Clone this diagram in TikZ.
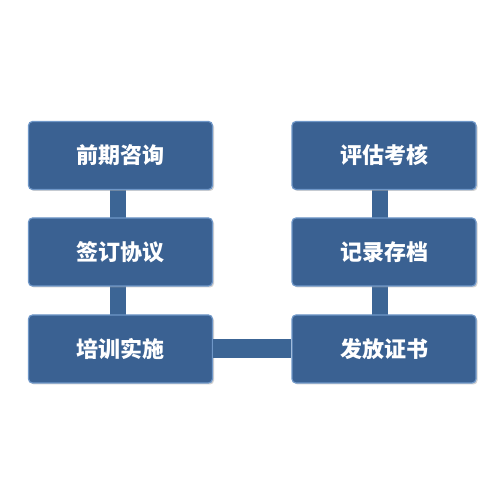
\documentclass[tikz,border=0pt]{standalone}
\usepackage{fontspec}
\newfontfamily\cjk{Noto Sans CJK SC}
\usetikzlibrary{shadows}
\definecolor{boxblue}{HTML}{3A6192}
\definecolor{boxedge}{HTML}{6F97C8}
\definecolor{linkblue}{HTML}{3C6595}
\tikzset{
  stepbox/.style={draw=boxedge, line width=1.2pt, fill=boxblue, rounded corners=4pt,
    minimum width=184pt, minimum height=68pt, inner sep=0pt,
    text=white, font=\cjk\bfseries\fontsize{22pt}{26pt}\selectfont,
    drop shadow={shadow xshift=1.5pt, shadow yshift=-1.5pt, fill=black!35, opacity=0.5}},
  vlink/.style={draw=linkblue, line width=16pt},
  hlink/.style={draw=linkblue, line width=19pt}
}
\begin{document}
\begin{tikzpicture}[x=1pt,y=1pt]
\useasboundingbox (0,0) rectangle (500,500);
% connectors behind
\coordinate (la) at (118,344.5);
\coordinate (lb) at (118,151);
\coordinate (ra) at (380,344.5);
\coordinate (rb) at (380,151);
\draw[vlink] (la) -- (lb);
\draw[vlink] (ra) -- (rb);
\node[stepbox] (a1) at (120.5,344.5) {前期咨询};
\node[stepbox] (a2) at (120.5,248) {签订协议};
\node[stepbox] (a3) at (120.5,151) {培训实施};
\node[stepbox] (b1) at (384,344.5) {评估考核};
\node[stepbox] (b2) at (384,248) {记录存档};
\node[stepbox] (b3) at (384,151) {发放证书};
\draw[hlink] (a3.east) -- (b3.west);
\end{tikzpicture}
\end{document}
